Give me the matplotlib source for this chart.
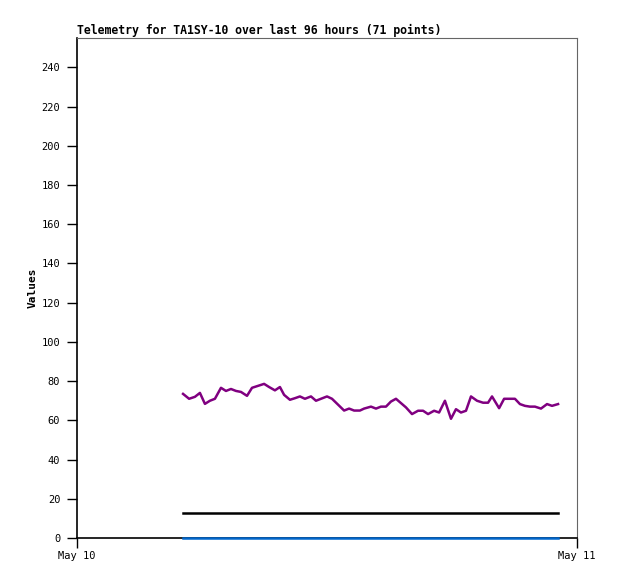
import numpy as np
import matplotlib
matplotlib.use("Agg")
import matplotlib.pyplot as plt

# hours after May 10 00:00
hours = [5.09, 5.38, 5.66, 5.90, 6.14, 6.38, 6.62, 6.91, 7.15, 7.39,
         7.63, 7.87, 8.16, 8.40, 8.69, 8.98, 9.22, 9.50, 9.74, 9.94,
         10.22, 10.46, 10.70, 10.94, 11.23, 11.47, 11.71, 12.00, 12.24, 12.53,
         12.82, 13.06, 13.30, 13.58, 13.78, 14.11, 14.35, 14.59, 14.83, 15.07,
         15.31, 15.55, 15.79, 16.08, 16.37, 16.61, 16.85, 17.14, 17.38, 17.66,
         17.95, 18.19, 18.43, 18.67, 18.91, 19.20, 19.49, 19.73, 19.92, 20.26,
         20.50, 20.78, 21.02, 21.26, 21.50, 21.74, 21.98, 22.27, 22.56, 22.80,
         23.09]
purple = [73.5, 71, 72, 74, 68.4, 70, 71, 76.6, 75, 76,
          75, 74.5, 72.5, 76.6, 77.6, 78.6, 77, 75.3, 77, 73,
          70.5, 71.3, 72.2, 71, 72.2, 70, 71, 72.2, 71, 68,
          65, 66, 65, 65, 66, 67, 66, 67, 67, 69.6,
          71, 68.8, 66.6, 63.2, 64.9, 64.9, 63.2, 64.9, 64, 70,
          60.8, 65.7, 64, 64.9, 72.2, 70, 69, 69, 72.2, 66.2,
          71, 71, 71, 68.3, 67.4, 67, 67, 66, 68.3, 67.4,
          68.3]
black = [13] * len(hours)
blue = [0] * len(hours)

title = "Telemetry for TA1SY-10 over last 96 hours (71 points)"
xticks = [0, 24]
xlabels = ["May 10", "May 11"]
yticks = list(range(0, 241, 20))

fig = plt.figure(figsize=(6.18, 5.79), dpi=100)
ax = fig.add_axes([0.1246, 0.0708, 0.8091, 0.8636])

ax.plot(hours, blue, color="#0066cc", linewidth=1.8, zorder=5, clip_on=False)
ax.plot(hours, black, color="black", linewidth=1.8)
ax.plot(hours, purple, color="#800080", linewidth=1.8)

ax.set_xlim(0, 24)
ax.set_ylim(0, 255)
ax.set_xticks(xticks)
ax.set_xticklabels(xlabels)
ax.set_yticks(yticks)

mono = "DejaVu Sans Mono"
for lab in ax.get_xticklabels() + ax.get_yticklabels():
    lab.set_family(mono)
    lab.set_fontsize(7.5)
ax.tick_params(axis="both", direction="out", length=7, width=1, pad=5)
ax.tick_params(axis="x", pad=2)

ax.spines["left"].set_linewidth(1.2)
ax.spines["bottom"].set_linewidth(1.2)
ax.spines["top"].set_color("#666666")
ax.spines["right"].set_color("#666666")
ax.spines["top"].set_linewidth(0.8)
ax.spines["right"].set_linewidth(0.8)

ax.set_ylabel("Values", family=mono, fontweight="bold", fontsize=8, labelpad=3)
ax.set_title(title, family=mono, fontweight="bold", fontsize=8.3, loc="left", pad=3)

fig.savefig("out.png", dpi=100)
